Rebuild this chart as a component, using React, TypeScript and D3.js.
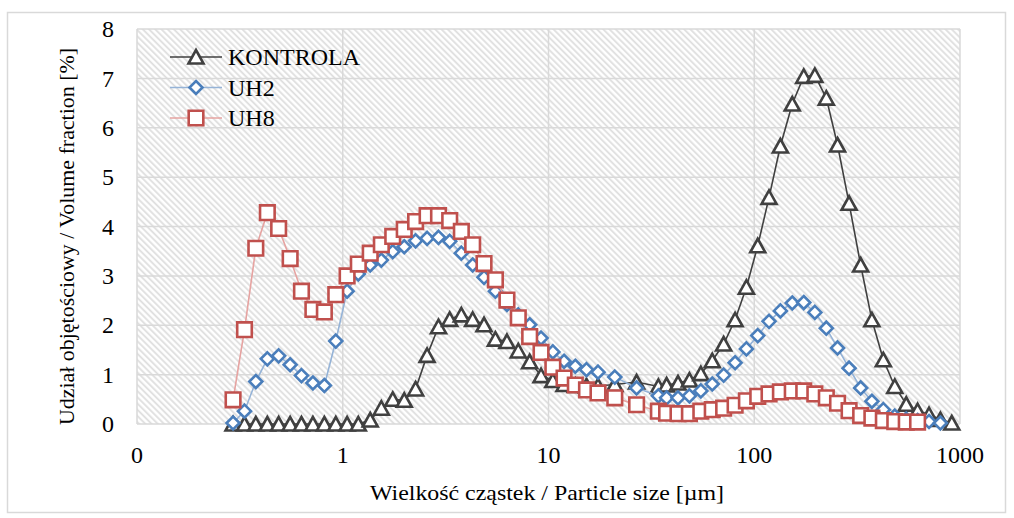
import * as d3 from "d3";

// particle size classes [µm]
const sizes = [
  0.293, 0.333, 0.378, 0.43, 0.488, 0.555, 0.63, 0.716, 0.814, 0.925,
  1.05, 1.19, 1.36, 1.54, 1.75, 1.99, 2.26, 2.57, 2.92, 3.31,
  3.77, 4.28, 4.86, 5.52, 6.28, 7.13, 8.1, 9.2, 10.5, 11.9,
  13.5, 15.3, 17.4, 21.0, 26.8, 34.2, 37.5, 42.6, 48.4, 55.0,
  62.5, 71.0, 80.7, 91.6, 104, 118, 134, 153, 174, 197,
  224, 254, 289, 329, 373, 424, 482, 548, 622, 707,
  803, 912,
];

const kontrola = [
  0, 0, 0, 0, 0, 0, 0, 0, 0, 0,
  0, 0, 0.08, 0.32, 0.5, 0.48, 0.71, 1.39, 1.97, 2.12,
  2.21, 2.12, 2.01, 1.72, 1.67, 1.48, 1.26, 0.98, 0.88, 0.8,
  0.78, 0.77, 0.77, 0.8, 0.85, 0.76, 0.79, 0.83, 0.89, 1.02,
  1.28, 1.62, 2.11, 2.77, 3.61, 4.59, 5.63, 6.48, 7.04, 7.06,
  6.6, 5.65, 4.47, 3.22, 2.11, 1.3, 0.76, 0.4, 0.27, 0.19,
  0.09, 0.02,
];

const uh2 = [
  0.02, 0.26, 0.86, 1.32, 1.38, 1.2, 0.98, 0.83, 0.78, 1.68,
  2.69, 3.04, 3.22, 3.32, 3.49, 3.59, 3.71, 3.76, 3.78, 3.7,
  3.46, 3.22, 2.97, 2.69, 2.42, 2.21, 2.01, 1.74, 1.46, 1.27,
  1.17, 1.1, 1.05, 0.95, 0.73, 0.57, 0.53, 0.53, 0.57, 0.67,
  0.81, 0.99, 1.24, 1.52, 1.79, 2.08, 2.29, 2.45, 2.46, 2.26,
  1.94, 1.54, 1.13, 0.73, 0.46, 0.29, 0.16, 0.1, 0.07, 0.05,
  0.02,
];

const uh8 = [
  0.49, 1.91, 3.56, 4.28, 3.96, 3.35, 2.69, 2.32, 2.27, 2.62,
  3.0, 3.24, 3.46, 3.63, 3.8, 3.94, 4.1, 4.22, 4.22, 4.12,
  3.9, 3.63, 3.25, 2.92, 2.51, 2.15, 1.77, 1.45, 1.15, 0.93,
  0.79, 0.69, 0.63, 0.53, 0.39, 0.26, 0.22, 0.21, 0.21, 0.26,
  0.29, 0.32, 0.38, 0.47, 0.56, 0.61, 0.65, 0.67, 0.67, 0.61,
  0.53, 0.42, 0.27, 0.17, 0.12, 0.07, 0.05, 0.04, 0.04,
];

const xTicks = [0.1, 1, 10, 100, 1000];
const xTickLabels = ["0", "1", "10", "100", "1000"];
const yTicks = [0, 1, 2, 3, 4, 5, 6, 7, 8];

const FONT = "'Liberation Serif', 'Times New Roman', serif";

type Shape = "triangle" | "diamond" | "square";

function markerPath(shape: Shape, cx: number, cy: number) {
  if (shape === "triangle") {
    return `M${cx - 7.5},${cy + 6.5}L${cx + 7.5},${cy + 6.5}L${cx},${cy - 7}Z`;
  }
  if (shape === "diamond") {
    return `M${cx},${cy - 6.5}L${cx + 6.5},${cy}L${cx},${cy + 6.5}L${cx - 6.5},${cy}Z`;
  }
  return `M${cx - 7.3},${cy - 7.3}h14.6v14.6h-14.6Z`;
}

const series = [
  { name: "KONTROLA", values: kontrola, line: "#404040", mark: "#404040", shape: "triangle" as Shape },
  { name: "UH2", values: uh2, line: "#95b3d7", mark: "#4a7ebb", shape: "diamond" as Shape },
  { name: "UH8", values: uh8, line: "#e6a3a1", mark: "#c0504d", shape: "square" as Shape },
];

export default function App() {
  const width = 1014;
  const height = 518;
  const plot = { left: 137, right: 960, top: 29, bottom: 424 };

  const x = d3.scaleLog().domain([0.1, 1000]).range([plot.left, plot.right]);
  const y = d3.scaleLinear().domain([0, 8]).range([plot.bottom, plot.top]);

  const line = d3
    .line<number>()
    .x((_, i) => x(sizes[i]))
    .y((d) => y(d));

  return (
    <svg
      width={width}
      height={height}
      style={{ position: "absolute", left: 0, top: 0, background: "#fff" }}
      fontFamily={FONT}
    >
      <defs>
        <pattern
          id="hatch"
          patternUnits="userSpaceOnUse"
          width={4.4}
          height={4.4}
          patternTransform="rotate(-45)"
        >
          <rect width={4.4} height={4.4} fill="#ffffff" />
          <line x1={1.1} y1={0} x2={1.1} y2={4.4} stroke="#dedede" strokeWidth={1.8} />
        </pattern>
      </defs>

      {/* outer chart border */}
      <rect x={7.5} y={12.5} width={998} height={500} fill="#fff" stroke="#d9d9d9" strokeWidth={1.5} />

      {/* plot area */}
      <rect
        x={plot.left}
        y={plot.top}
        width={plot.right - plot.left}
        height={plot.bottom - plot.top}
        fill="url(#hatch)"
      />

      {/* grid */}
      {yTicks.map((t) => (
        <line key={"gy" + t} x1={plot.left} x2={plot.right} y1={y(t)} y2={y(t)} stroke="#d9d9d9" strokeWidth={1.5} />
      ))}
      {xTicks.map((t) => (
        <line key={"gx" + t} x1={x(t)} x2={x(t)} y1={plot.top} y2={plot.bottom} stroke="#d9d9d9" strokeWidth={1.5} />
      ))}

      {/* y tick labels */}
      {yTicks.map((t) => (
        <text key={"ty" + t} x={114} y={y(t)} dy="0.34em" textAnchor="end" fontSize={24} fill="#000">
          {t}
        </text>
      ))}
      {/* x tick labels */}
      {xTicks.map((t, i) => (
        <text key={"tx" + t} x={x(t)} y={463} textAnchor="middle" fontSize={24} fill="#000">
          {xTickLabels[i]}
        </text>
      ))}

      {/* axis titles */}
      <text
        x={547}
        y={500}
        textAnchor="middle"
        fontSize={22}
        fill="#000"
        textLength={354}
        lengthAdjust="spacingAndGlyphs"
      >
        Wielkość cząstek / Particle size [µm]
      </text>
      <text
        transform={`translate(74,236.5) rotate(-90)`}
        textAnchor="middle"
        fontSize={21}
        fill="#000"
        textLength={377}
        lengthAdjust="spacingAndGlyphs"
      >
        Udział objętościowy / Volume fraction [%]
      </text>

      {/* series */}
      {series.map((s) => (
        <g key={s.name}>
          <path d={line(s.values) ?? ""} fill="none" stroke={s.line} strokeWidth={1.6} />
          {s.values.map((v, i) => (
            <path
              key={i}
              d={markerPath(s.shape, x(sizes[i]), y(v))}
              fill="#fff"
              stroke={s.mark}
              strokeWidth={2.6}
              strokeLinejoin="miter"
            />
          ))}
        </g>
      ))}

      {/* legend */}
      {series.map((s, i) => {
        const ly = 57 + i * 30.5;
        return (
          <g key={"lg" + s.name}>
            <line x1={170} x2={222} y1={ly} y2={ly} stroke={s.line} strokeWidth={1.6} />
            <path d={markerPath(s.shape, 196, ly)} fill="#fff" stroke={s.mark} strokeWidth={2.6} />
            <text x={228} y={ly} dy="0.34em" fontSize={24} fill="#000">
              {s.name}
            </text>
          </g>
        );
      })}
    </svg>
  );
}
